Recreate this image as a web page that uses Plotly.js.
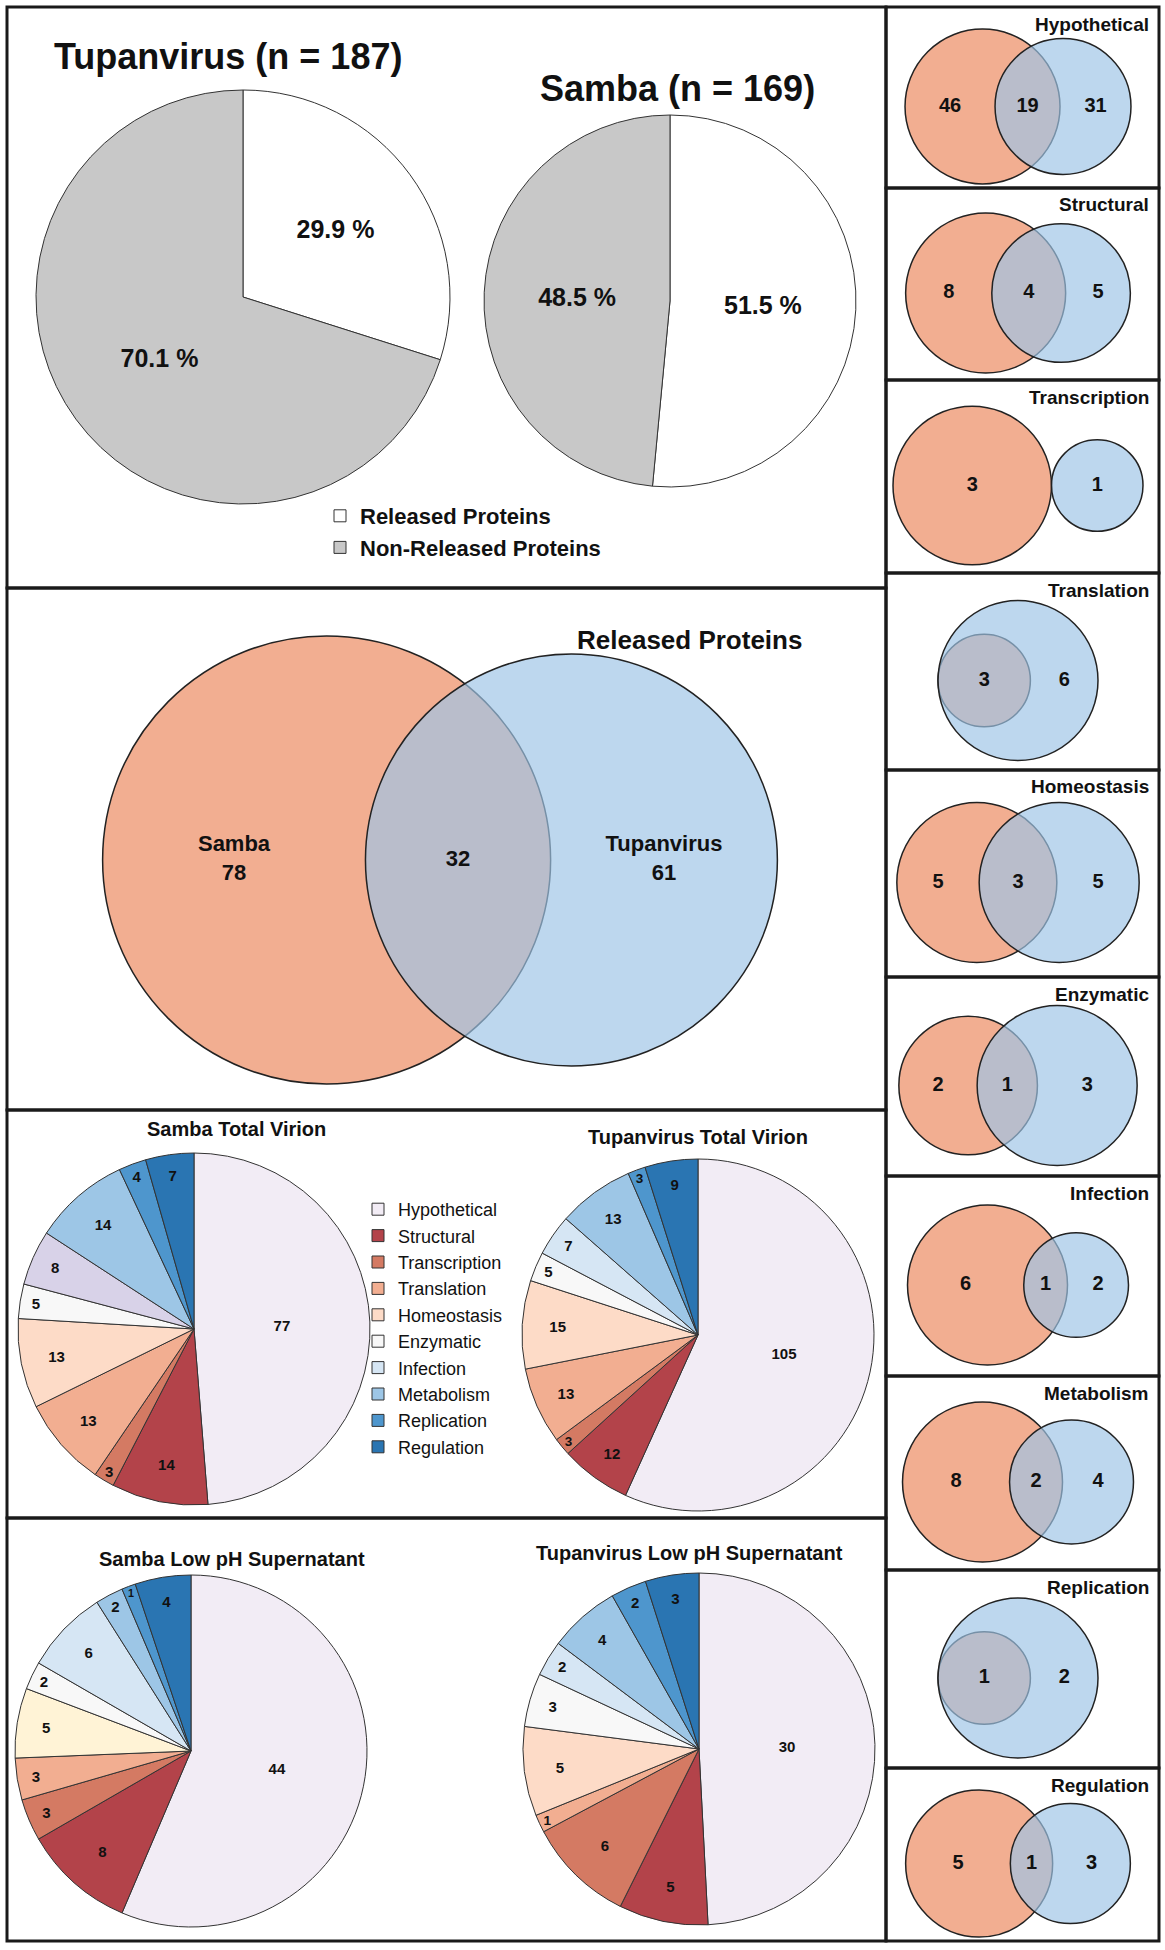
<!DOCTYPE html>
<html><head><meta charset="utf-8">
<script src="https://cdn.plot.ly/plotly-3.0.1.min.js"></script>
<style>html,body{margin:0;padding:0;background:#fff}#chart{width:1165px;height:1950px}</style>
</head><body><div id="chart"></div>
<script>
// ---------------- data ----------------
const releaseLabels = ['Released Proteins', 'Non-Released Proteins'];
const tupanReleasePct = [29.9, 70.1];
const sambaReleasePct = [51.5, 48.5];
const tupanTitle = 'Tupanvirus (n = 187)';
const sambaTitle = 'Samba (n = 169)';

const vennSets = ['Samba', 'Tupanvirus'];
const releasedSambaOnly = 78;
const releasedShared = 32;
const releasedTupanOnly = 61;

const categories = ['Hypothetical', 'Structural', 'Transcription', 'Translation', 'Homeostasis',
                    'Enzymatic', 'Infection', 'Metabolism', 'Replication', 'Regulation'];
const sambaTotalVirion = [77, 14, 3, 13, 13, 5, 8, 14, 4, 7];
const tupanTotalVirion = [105, 12, 3, 13, 15, 5, 7, 13, 3, 9];
const sambaLowPH = [44, 8, 3, 3, 5, 2, 6, 2, 1, 4];
const tupanLowPH = [30, 5, 6, 1, 5, 3, 2, 4, 2, 3];

const catSambaOnly = [46, 8, 3, 0, 5, 2, 6, 8, 0, 5];
const catShared    = [19, 4, 0, 3, 3, 1, 1, 2, 1, 1];
const catTupanOnly = [31, 5, 1, 6, 5, 3, 2, 4, 2, 3];

// ---------------- styles ----------------
const W = 1165, H = 1950;
const FONT = 'Liberation Sans, Arial, Helvetica, sans-serif';
const X = p => p / W;
const Y = p => 1 - p / H;
const ORANGE = '#F2AE91';
const BLUE = 'rgba(158,196,230,0.68)';
const EDGE = '#222';
const catColors = ['#F2ECF5', '#B3434A', '#D47A63', '#F2AE91', '#FDDBC7',
                   '#F8F8F8', '#D6E6F4', '#9DC6E6', '#4E96CD', '#2A75B2'];
const sambaTotalColors = catColors.slice(); sambaTotalColors[6] = '#D8D2E8';
const sambaLowColors = catColors.slice(); sambaLowColors[4] = '#FFF3D6';
const releaseColors = ['#FFFFFF', '#C8C8C8'];

function dom(cx, cy, r) {
  return {x: [X(cx - r), X(cx + r)], y: [Y(cy + r), Y(cy - r)]};
}
function pie(values, labels, colors, cx, cy, r, legend, fontSize, tmpl) {
  return {
    type: 'pie', values: values, labels: labels, sort: false, direction: 'clockwise', rotation: 0,
    domain: dom(cx, cy, r), legend: legend,
    marker: {colors: colors, line: {color: '#333', width: 1}},
    texttemplate: tmpl, textposition: 'inside', insidetextorientation: 'horizontal',
    insidetextfont: {family: FONT, size: fontSize, color: '#111', weight: 'bold'},
    hoverinfo: 'label+value'
  };
}

const traces = [];
traces.push(pie(tupanReleasePct, releaseLabels, releaseColors, 243, 297, 207, 'legend', 25, '%{value:.1f} %'));
traces.push(pie(sambaReleasePct, releaseLabels, releaseColors, 670, 301, 186, 'legend', 25, '%{value:.1f} %'));
traces.push(pie(tupanTotalVirion, categories, catColors, 698, 1335, 176, 'legend2', 15, '%{value}'));
traces.push(pie(sambaTotalVirion, categories, sambaTotalColors, 194, 1329, 176, 'legend2', 15, '%{value}'));
traces.push(pie(tupanLowPH, categories, catColors, 699, 1749, 176, 'legend3', 15, '%{value}'));
traces.push(pie(sambaLowPH, categories, sambaLowColors, 191, 1751, 176, 'legend3', 15, '%{value}'));

// ---------------- Venn geometry (area-proportional) ----------------
function lensArea(r1, r2, d) {
  if (d >= r1 + r2) return 0;
  if (d <= Math.abs(r1 - r2)) return Math.PI * Math.min(r1, r2) ** 2;
  const a = r1 * r1 * Math.acos((d * d + r1 * r1 - r2 * r2) / (2 * d * r1));
  const b = r2 * r2 * Math.acos((d * d + r2 * r2 - r1 * r1) / (2 * d * r2));
  const c = 0.5 * Math.sqrt((-d + r1 + r2) * (d + r1 - r2) * (d - r1 + r2) * (d + r1 + r2));
  return a + b - c;
}
function solveVenn(aOnly, both, bOnly, Rmax, maxW) {
  const a0 = Math.sqrt(aOnly + both), b0 = Math.sqrt(bOnly + both);
  let d0;
  if (both === 0) d0 = a0 + b0;
  else if (aOnly === 0 || bOnly === 0) d0 = Math.abs(a0 - b0);
  else {
    const target = Math.PI * both;
    let lo = Math.abs(a0 - b0), hi = a0 + b0;
    for (let i = 0; i < 80; i++) {
      const mid = (lo + hi) / 2;
      if (lensArea(a0, b0, mid) > target) lo = mid; else hi = mid;
    }
    d0 = (lo + hi) / 2;
  }
  let s = Rmax / Math.max(a0, b0);
  const w0 = Math.max(a0, d0 + b0) - Math.min(-a0, d0 - b0);
  if (maxW && w0 * s > maxW) s = maxW / w0;
  const rA = a0 * s, rB = b0 * s, d = d0 * s;
  const left = Math.min(-rA, d - rB), right = Math.max(rA, d + rB);
  const shift = -(left + right) / 2;
  const xA = shift, xB = d + shift;
  const lx = [], lt = [];
  if (aOnly > 0) { lx.push(both === 0 ? xA : ((xA - rA) + (xB - rB)) / 2); lt.push(aOnly); }
  if (both > 0) { lx.push((Math.max(xA - rA, xB - rB) + Math.min(xA + rA, xB + rB)) / 2); lt.push(both); }
  if (bOnly > 0) { lx.push(both === 0 ? xB : ((xA + rA) + (xB + rB)) / 2); lt.push(bOnly); }
  return {rA, rB, xA, xB, lx, lt};
}

const shapes = [];
const annotations = [];
const layoutAxes = {};
const hiddenAx = {showgrid: false, zeroline: false, showticklabels: false, ticks: '', showline: false, fixedrange: true};

function addVenn(k, box, X0, Y0, geo, labelTexts, fontSize) {
  const xa = 'x' + k, ya = 'y' + k;
  layoutAxes['xaxis' + k] = Object.assign({}, hiddenAx, {
    domain: [X(box[0]), X(box[2])], range: [box[0] - X0, box[2] - X0], anchor: ya});
  layoutAxes['yaxis' + k] = Object.assign({}, hiddenAx, {
    domain: [Y(box[3]), Y(box[1])], range: [-(box[3] - Y0), Y0 - box[1]], anchor: xa});
  shapes.push({type: 'circle', xref: xa, yref: ya, layer: 'below',
    x0: geo.xA - geo.rA, x1: geo.xA + geo.rA, y0: -geo.rA, y1: geo.rA,
    fillcolor: ORANGE, line: {color: EDGE, width: 1.5}});
  shapes.push({type: 'circle', xref: xa, yref: ya, layer: 'below',
    x0: geo.xB - geo.rB, x1: geo.xB + geo.rB, y0: -geo.rB, y1: geo.rB,
    fillcolor: BLUE, line: {color: EDGE, width: 1.5}});
  traces.push({type: 'scatter', mode: 'text', xaxis: xa, yaxis: ya,
    x: geo.lx, y: geo.lx.map(() => 0), text: labelTexts,
    textposition: 'middle center', cliponaxis: false, showlegend: false, hoverinfo: 'skip',
    textfont: {family: FONT, size: fontSize, color: '#111', weight: 'bold'}});
}

// main Venn
const mainGeo = solveVenn(releasedSambaOnly, releasedShared, releasedTupanOnly, 224, 0);
const mainTexts = [vennSets[0] + '<br>' + releasedSambaOnly, String(releasedShared),
                   vennSets[1] + '<br>' + releasedTupanOnly];
addVenn('', [7, 588, 886, 1110], 440, 860, mainGeo, mainTexts, 22);

// small Venns
const rightDiv = [7, 188, 380, 573, 770, 977, 1176, 1376, 1570, 1768, 1941];
categories.forEach((cat, i) => {
  const top = rightDiv[i], bot = rightDiv[i + 1];
  const Y0 = (top + bot) / 2 + 9;
  const Rmax = Math.min(80, bot - Y0 - 4);
  const geo = solveVenn(catSambaOnly[i], catShared[i], catTupanOnly[i], Rmax, 250);
  addVenn(i + 2, [886, top, 1159, bot], 1018, Y0, geo, geo.lt.map(String), 20);
  annotations.push({xref: 'paper', yref: 'paper', x: X(1151), y: Y(top + 17), xanchor: 'right', yanchor: 'middle',
    text: cat, showarrow: false, font: {family: FONT, size: 19, color: '#111', weight: 'bold'}});
});

// titles
function title(text, cx, cy, size) {
  annotations.push({xref: 'paper', yref: 'paper', x: X(cx), y: Y(cy), xanchor: 'center', yanchor: 'middle',
    text: text, showarrow: false, font: {family: FONT, size: size, color: '#111', weight: 'bold'}});
}
title(tupanTitle, 228, 56, 36);
title(sambaTitle, 677, 88, 36);
title('Released Proteins', 689, 640, 26);
title('Samba Total Virion', 236, 1129, 20);
title('Tupanvirus Total Virion', 698, 1137, 20);
title('Samba Low pH Supernatant', 232, 1559, 20);
title('Tupanvirus Low pH Supernatant', 689, 1553, 20);

// panel borders
function box(x0, y0, x1, y1) {
  shapes.push({type: 'rect', xref: 'paper', yref: 'paper', x0: X(x0), x1: X(x1), y0: Y(y1), y1: Y(y0),
    line: {color: '#1a1a1a', width: 3}, fillcolor: 'rgba(0,0,0,0)', layer: 'above'});
}
box(7, 7, 886, 588); box(7, 588, 886, 1110); box(7, 1110, 886, 1518); box(7, 1518, 886, 1941);
for (let i = 0; i < 10; i++) box(886, rightDiv[i], 1159, rightDiv[i + 1]);

const layout = Object.assign({
  width: W, height: H, margin: {l: 0, r: 0, t: 0, b: 0},
  paper_bgcolor: '#fff', plot_bgcolor: 'rgba(0,0,0,0)', hovermode: false,
  showlegend: true,
  legend: {x: X(320), y: Y(495), xanchor: 'left', yanchor: 'top', bgcolor: 'rgba(0,0,0,0)',
    font: {family: FONT, size: 22, color: '#111', weight: 'bold'}},
  legend2: {x: X(358), y: Y(1191), xanchor: 'left', yanchor: 'top', bgcolor: 'rgba(0,0,0,0)',
    font: {family: FONT, size: 18, color: '#111'}},
  legend3: {x: X(358), y: Y(1609), xanchor: 'left', yanchor: 'top', bgcolor: 'rgba(0,0,0,0)',
    font: {family: FONT, size: 18, color: '#111'}},
  shapes: shapes, annotations: annotations
}, layoutAxes);

Plotly.newPlot('chart', traces, layout, {staticPlot: true, displayModeBar: false});
</script></body></html>
